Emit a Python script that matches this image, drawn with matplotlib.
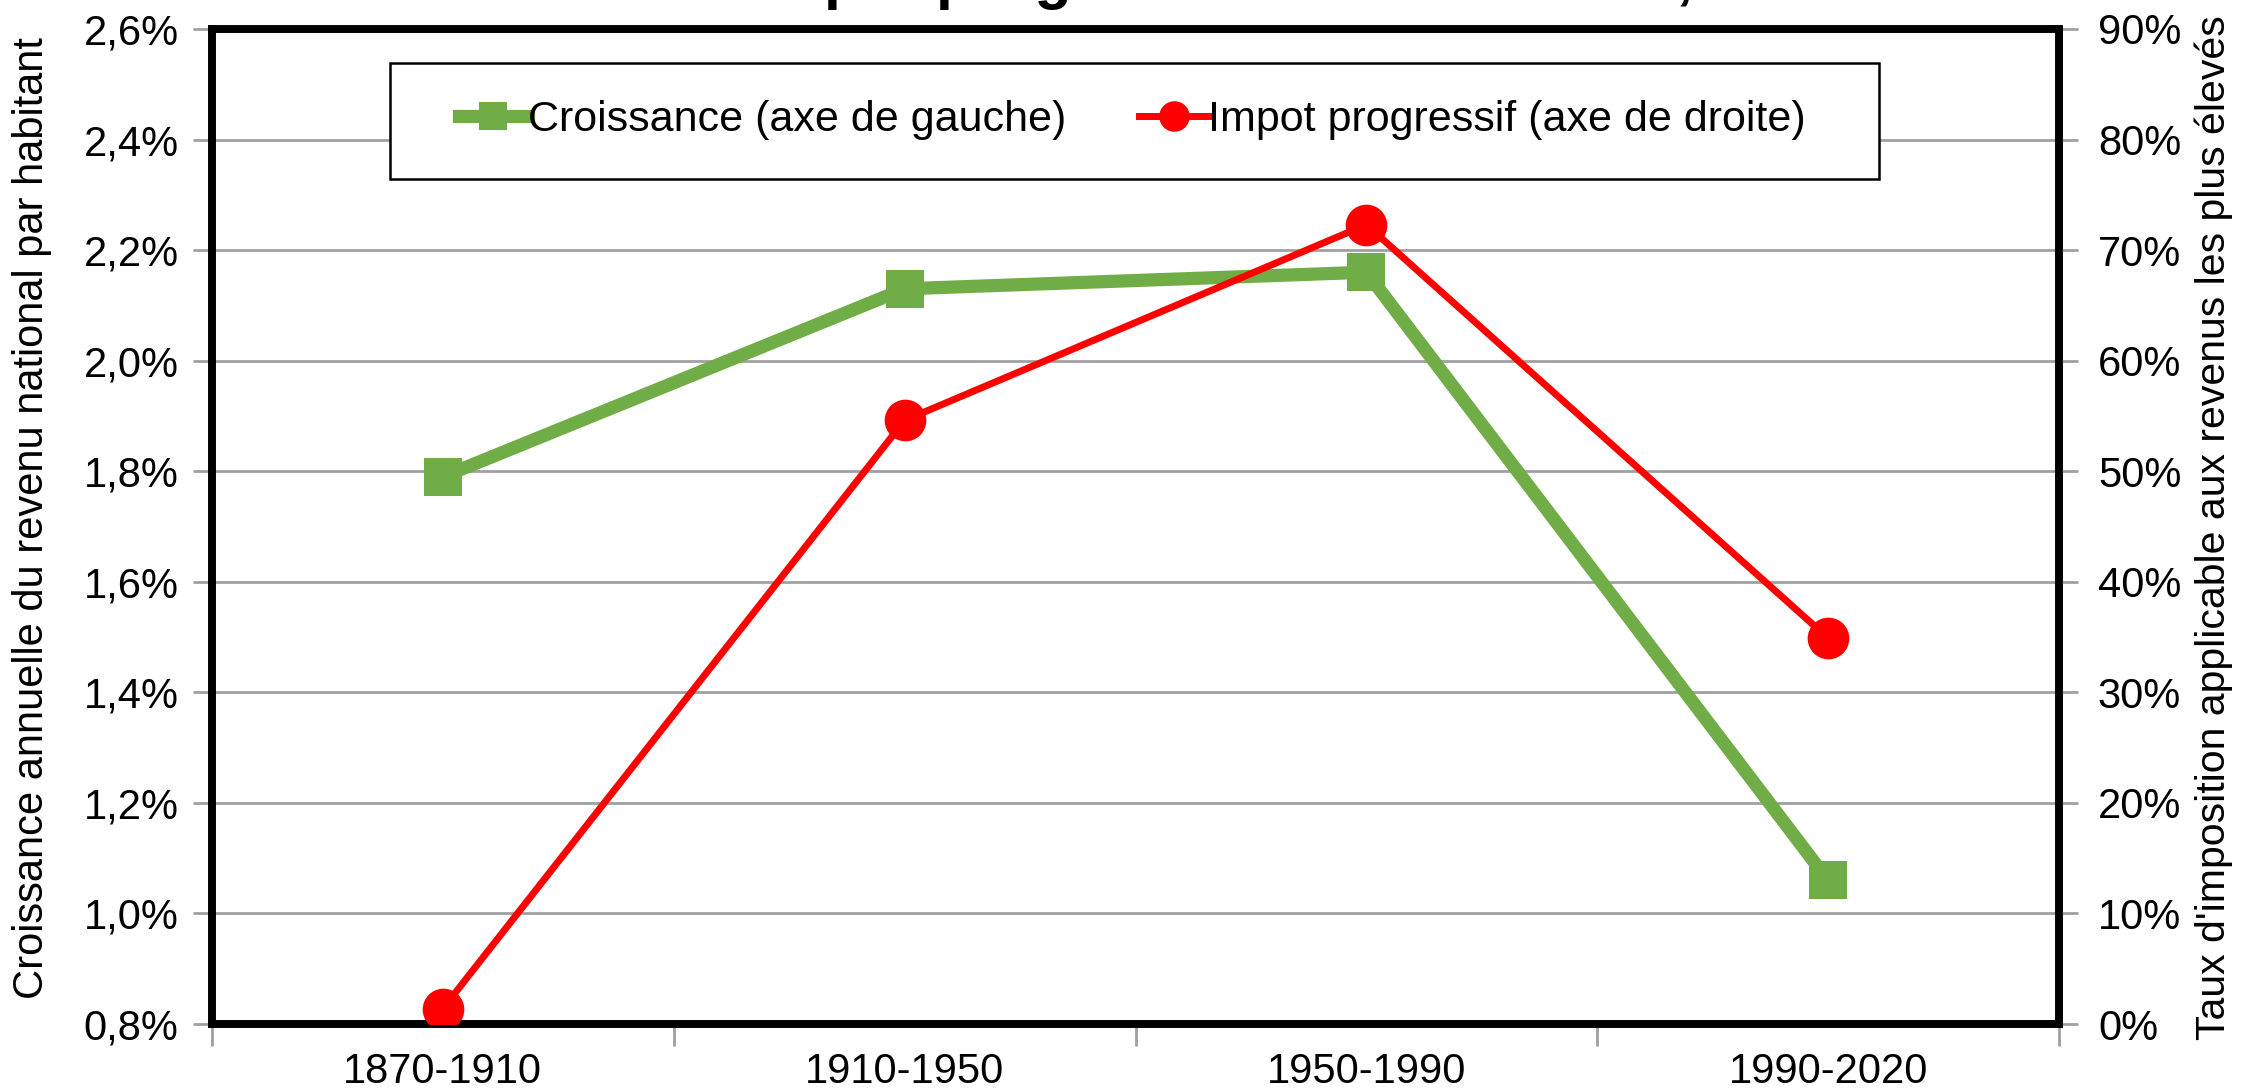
import matplotlib
matplotlib.use("Agg")
import matplotlib.pyplot as plt
from matplotlib import font_manager
from matplotlib.lines import Line2D
from matplotlib.patches import Rectangle
from matplotlib.ticker import FixedLocator, NullFormatter

# ---- data ----
periods = ["1870-1910", "1910-1950", "1950-1990", "1990-2020"]
croissance = [1.79, 2.13, 2.16, 1.06]          # % per year (left axis)
impot = [1.4, 54.6, 72.3, 34.9]                # % top marginal rate (right axis)
left_ticks = [0.8, 1.0, 1.2, 1.4, 1.6, 1.8, 2.0, 2.2, 2.4, 2.6]
right_ticks = [0, 10, 20, 30, 40, 50, 60, 70, 80, 90]
title = "Croissance et impôt progressif aux Etats-Unis, 1870-2020"
label_left = "Croissance annuelle du revenu national par habitant"
label_right = "Taux d'imposition applicable aux revenus les plus élevés"
legend_labels = ["Croissance (axe de gauche)", "Impot progressif (axe de droite)"]

names = {f.name for f in font_manager.fontManager.ttflist}
base = "Liberation Sans" if "Liberation Sans" in names else "DejaVu Sans"
plt.rcParams["font.family"] = [base, "DejaVu Sans"]

GREEN = "#70AD47"
RED = "#FF0000"
GRID = "#a0a0a0"

W, H = 2242, 1092
fig = plt.figure(figsize=(W / 100, H / 100), dpi=100)
x0, x1, ytop, ybot = 212, 2059, 29, 1024
ax = fig.add_axes([x0 / W, 1 - ybot / H, (x1 - x0) / W, (ybot - ytop) / H])
ax2 = ax.twinx()

xs = list(range(len(periods)))
ax.plot(xs, croissance, color=GREEN, lw=9.5, marker="s", ms=28,
        markeredgewidth=0, zorder=3)
ax2.plot(xs, impot, color=RED, lw=5, marker="o", ms=30,
         markeredgewidth=0, zorder=3)

ax.set_xlim(-0.5, len(periods) - 0.5)
ax.set_ylim(left_ticks[0], left_ticks[-1])
ax2.set_ylim(right_ticks[0], right_ticks[-1])

ax.set_yticks(left_ticks)
ax.set_yticklabels([f"{v:.1f}%".replace(".", ",") for v in left_ticks])
ax2.set_yticks(right_ticks)
ax2.set_yticklabels([f"{v}%" for v in right_ticks])

# category boundaries as ticks, labels centred as minor ticks
ax.xaxis.set_major_locator(FixedLocator([i - 0.5 for i in range(len(periods) + 1)]))
ax.xaxis.set_major_formatter(NullFormatter())
ax.set_xticks(xs, minor=True)
ax.set_xticklabels(periods, minor=True, fontsize=30)
ax.tick_params(axis="x", which="major", length=16, width=2, color=GRID, direction="out")
ax.tick_params(axis="x", which="minor", length=0, pad=20, labelcolor="black")

ax.tick_params(axis="y", length=14, width=2, color=GRID, labelsize=30, pad=10)
ax2.tick_params(axis="y", length=14, width=2, color=GRID, labelsize=30, pad=14)

ax.grid(axis="y", color=GRID, lw=2)
ax.grid(axis="x", visible=False)
ax.set_axisbelow(True)

for a in (ax, ax2):
    for s in a.spines.values():
        s.set_color("black")
        s.set_linewidth(5.5)

fig.text(32 / W, 1 - 518 / H, label_left, rotation=90, ha="center", va="center", fontsize=30)
fig.text(2214 / W, 1 - 528 / H, label_right, rotation=90, ha="center", va="center", fontsize=29.5)

# legend frame + entries
lx0, lx1, ly0, ly1 = 390, 1879, 63, 179
ax2.add_patch(Rectangle(((lx0 - x0) / (x1 - x0), (ybot - ly1) / (ybot - ytop)),
                        (lx1 - lx0) / (x1 - x0), (ly1 - ly0) / (ybot - ytop),
                        transform=ax2.transAxes, facecolor="white", edgecolor="black",
                        lw=1.8, zorder=5, clip_on=False))
h1 = Line2D([], [], color=GREEN, lw=9.5, marker="s", ms=20, markeredgewidth=0)
h2 = Line2D([], [], color=RED, lw=5, marker="o", ms=22, markeredgewidth=0)
leg = ax2.legend([h1, h2], legend_labels, ncol=2, frameon=False,
                 loc="center left",
                 bbox_to_anchor=((459 - x0) / (x1 - x0), (ybot - 120) / (ybot - ytop)),
                 borderaxespad=0, borderpad=0, fontsize=31, handlelength=1.6,
                 handletextpad=0.0, columnspacing=1.7)
leg.set_zorder(6)

# title (cut off at the top of the picture, only descenders visible)
fig.text(335 / W, 1 + 3.5 / H, title, ha="left", va="baseline",
         fontsize=44, fontweight="bold")

fig.savefig("out.png", dpi=100)
